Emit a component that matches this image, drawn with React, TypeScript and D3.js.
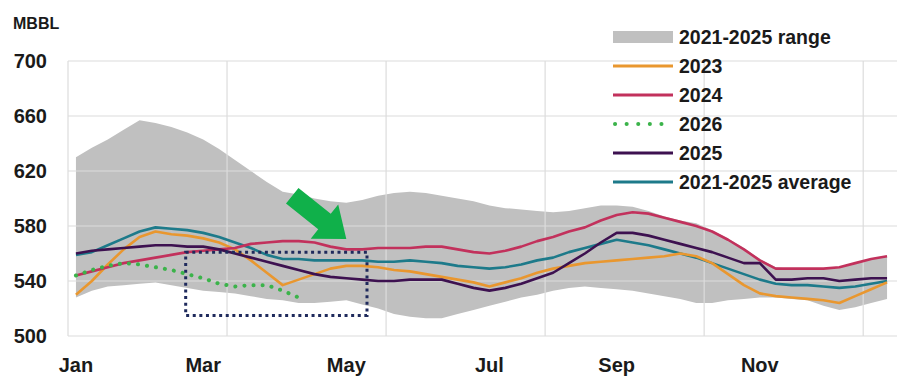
import React from "react";
import * as d3 from "d3";

// Weekly crude inventories, MBBL (week index 0..51)
const rangeHigh = [630, 637, 643, 650, 657, 655, 652, 648, 643, 636, 628, 620, 612, 605, 603, 600, 598, 597, 599, 602, 604, 605, 604, 602, 600, 598, 595, 593, 592, 591, 590, 591, 593, 595, 595, 594, 591, 587, 584, 582, 577, 571, 564, 556, 550, 549, 549, 549, 550, 553, 556, 558];
const rangeLow = [528, 533, 536, 537, 538, 539, 537, 535, 533, 532, 531, 529, 527, 526, 524, 524, 525, 526, 523, 520, 516, 514, 513, 513, 516, 519, 522, 525, 528, 530, 533, 535, 536, 535, 534, 533, 531, 529, 527, 524, 524, 526, 527, 528, 528, 527, 526, 522, 519, 521, 524, 527];
const avg2125 = [559, 561, 566, 571, 576, 579, 578, 577, 575, 572, 568, 564, 559, 556, 556, 555, 555, 555, 555, 554, 554, 555, 554, 553, 551, 550, 549, 550, 552, 555, 557, 561, 564, 567, 570, 568, 566, 563, 560, 557, 553, 549, 545, 541, 538, 537, 537, 536, 535, 536, 538, 540];
const y2023 = [530, 540, 552, 563, 572, 576, 574, 573, 571, 568, 563, 555, 546, 537, 541, 545, 549, 551, 551, 550, 548, 547, 545, 543, 541, 539, 536, 539, 542, 546, 549, 551, 553, 554, 555, 556, 557, 558, 560, 558, 553, 545, 537, 531, 529, 528, 527, 526, 524, 529, 534, 539];
const y2024 = [544, 547, 550, 553, 555, 557, 559, 561, 562, 563, 564, 567, 568, 569, 569, 568, 565, 563, 563, 564, 564, 564, 565, 565, 563, 561, 560, 562, 565, 569, 572, 576, 579, 584, 588, 590, 589, 586, 583, 580, 576, 570, 563, 555, 549, 549, 549, 549, 550, 553, 556, 558];
const y2025 = [560, 562, 563, 564, 565, 566, 566, 565, 565, 563, 560, 557, 554, 551, 548, 545, 543, 542, 541, 540, 540, 541, 541, 541, 538, 535, 533, 535, 538, 542, 546, 553, 560, 568, 575, 575, 573, 570, 567, 564, 561, 557, 553, 553, 541, 541, 542, 542, 540, 541, 542, 542];
const y2026 = [544, 548, 551, 553, 552, 550, 548, 545, 542, 538, 536, 537, 537, 533, 528];

const yTicks = [500, 540, 580, 620, 660, 700];
const monthLabels = ["Jan", "Mar", "May", "Jul", "Sep", "Nov"];
const monthWeeks = [0, 8, 17, 26, 34, 43];
const gridWeeks = [-0.5, 9.5, 19.5, 29.5, 39.5, 49.5];

// Highlight box (weeks, MBBL) and pointer arrow (weeks, MBBL)
const boxWeeks = [6.9, 18.3];
const boxValues = [561, 515];
const arrowFrom = [13.6, 602];
const arrowTo = [17.0, 570.5];

const COLORS = {
  range: "#c0c0c0",
  y2023: "#e9972f",
  y2024: "#c2315c",
  y2026: "#3bb34a",
  y2025: "#3d1150",
  avg: "#1d7a8a",
  grid: "#dcdcdc",
  text: "#1a1a1a",
  box: "#1f2a5c",
  arrow: "#10b04a",
};

const legendItems = [
  { label: "2021-2025 range", kind: "rect", color: COLORS.range },
  { label: "2023", kind: "line", color: COLORS.y2023 },
  { label: "2024", kind: "line", color: COLORS.y2024 },
  { label: "2026", kind: "dot", color: COLORS.y2026 },
  { label: "2025", kind: "line", color: COLORS.y2025 },
  { label: "2021-2025 average", kind: "line", color: COLORS.avg },
];

const FONT = "'Liberation Sans', Arial, sans-serif";

export default function App() {
  const width = 899;
  const height = 379;
  const x = d3.scaleLinear().domain([-0.5, 51.5]).range([68, 895]);
  const y = d3.scaleLinear().domain([500, 700]).range([336, 61]);

  const line = d3
    .line<number>()
    .x((_, i) => x(i))
    .y((d) => y(d))
    .curve(d3.curveLinear);

  const area = d3
    .area<number>()
    .x((_, i) => x(i))
    .y0((_, i) => y(rangeLow[i]))
    .y1((d) => y(d))
    .curve(d3.curveLinear);

  // arrow polygon in pixel space
  const ax0 = x(arrowFrom[0]);
  const ay0 = y(arrowFrom[1]);
  const ax1 = x(arrowTo[0]);
  const ay1 = y(arrowTo[1]);
  const dx = ax1 - ax0;
  const dy = ay1 - ay0;
  const len = Math.hypot(dx, dy);
  const ux = dx / len;
  const uy = dy / len;
  const nx = -uy;
  const ny = ux;
  const headLen = 28;
  const shaftW = 10;
  const headW = 22;
  const bx = ax1 - ux * headLen;
  const by = ay1 - uy * headLen;
  const arrowPts = [
    [ax0 + nx * shaftW, ay0 + ny * shaftW],
    [bx + nx * shaftW, by + ny * shaftW],
    [bx + nx * headW, by + ny * headW],
    [ax1, ay1],
    [bx - nx * headW, by - ny * headW],
    [bx - nx * shaftW, by - ny * shaftW],
    [ax0 - nx * shaftW, ay0 - ny * shaftW],
  ]
    .map((p) => p.join(","))
    .join(" ");

  const legendX = 613;
  const legendY0 = 37;
  const legendStep = 29;

  return (
    <svg
      width={width}
      height={height}
      style={{ position: "absolute", left: 0, top: 0, background: "#fff" }}
      fontFamily={FONT}
    >
      {/* range band */}
      <path d={area(rangeHigh.map((h, i) => Math.max(h, y2024[i]))) || ""} fill={COLORS.range} />

      {/* gridlines */}
      {yTicks.map((t) => (
        <line key={"h" + t} x1={68} x2={897} y1={y(t)} y2={y(t)} stroke={COLORS.grid} strokeWidth={1.2} />
      ))}
      {gridWeeks.map((w) => (
        <line key={"v" + w} x1={x(w)} x2={x(w)} y1={y(700)} y2={y(500)} stroke={COLORS.grid} strokeWidth={1.2} />
      ))}

      {/* y axis labels */}
      <text x={13} y={29} fontSize={16} fontWeight={700} fill={COLORS.text}>
        MBBL
      </text>
      {yTicks.map((t) => (
        <text key={"yl" + t} x={47} y={y(t) + 7} fontSize={20} fontWeight={700} textAnchor="end" fill={COLORS.text}>
          {t}
        </text>
      ))}

      {/* x axis labels */}
      {monthLabels.map((m, i) => (
        <text key={m} x={x(monthWeeks[i])} y={372} fontSize={20} fontWeight={700} textAnchor="middle" fill={COLORS.text}>
          {m}
        </text>
      ))}

      {/* series */}
      <path d={line(avg2125) || ""} fill="none" stroke={COLORS.avg} strokeWidth={2.6} strokeLinejoin="round" />
      <path d={line(y2023) || ""} fill="none" stroke={COLORS.y2023} strokeWidth={2.6} strokeLinejoin="round" />
      <path d={line(y2024) || ""} fill="none" stroke={COLORS.y2024} strokeWidth={2.6} strokeLinejoin="round" />
      <path d={line(y2025) || ""} fill="none" stroke={COLORS.y2025} strokeWidth={2.6} strokeLinejoin="round" />
      <path
        d={line(y2026) || ""}
        fill="none"
        stroke={COLORS.y2026}
        strokeWidth={4}
        strokeLinecap="round"
        strokeDasharray="0.1 9"
      />

      {/* highlight box */}
      <rect
        x={x(boxWeeks[0])}
        y={y(boxValues[0])}
        width={x(boxWeeks[1]) - x(boxWeeks[0])}
        height={y(boxValues[1]) - y(boxValues[0])}
        fill="none"
        stroke={COLORS.box}
        strokeWidth={3}
        strokeDasharray="3 3.6"
      />

      {/* arrow */}
      <polygon points={arrowPts} fill={COLORS.arrow} />

      {/* legend */}
      {legendItems.map((it, i) => {
        const cy = legendY0 + i * legendStep;
        return (
          <g key={it.label}>
            {it.kind === "rect" && <rect x={legendX} y={cy - 6} width={60} height={12} fill={it.color} />}
            {it.kind === "line" && (
              <line x1={legendX} x2={legendX + 60} y1={cy} y2={cy} stroke={it.color} strokeWidth={3} />
            )}
            {it.kind === "dot" && (
              <line
                x1={legendX + 2}
                x2={legendX + 60}
                y1={cy}
                y2={cy}
                stroke={it.color}
                strokeWidth={4}
                strokeLinecap="round"
                strokeDasharray="0.1 11.5"
              />
            )}
            <text x={679} y={cy + 7} fontSize={19.5} fontWeight={700} fill={COLORS.text}>
              {it.label}
            </text>
          </g>
        );
      })}
    </svg>
  );
}
